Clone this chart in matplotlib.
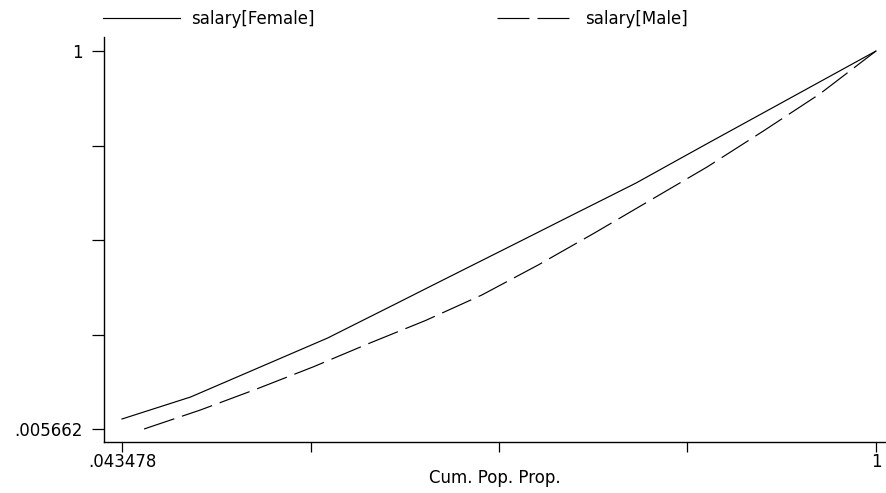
import matplotlib
matplotlib.use("Agg")
import matplotlib.pyplot as plt
import numpy as np
from matplotlib.ticker import FixedLocator, FuncFormatter

# Lorenz curves of salary by sex: cumulative salary share at each
# cumulative population proportion k/n.
n_female = 23
n_male = 14
female_share = [0.0320, 0.0609, 0.0898, 0.1286, 0.1674, 0.2062, 0.2450,
                0.2903, 0.3355, 0.3810, 0.4263, 0.4715, 0.5168, 0.5623,
                0.6075, 0.6528, 0.7028, 0.7527, 0.8022, 0.8516, 0.9011,
                0.9506, 1.0]
male_share = [0.005662, 0.0556, 0.1109, 0.1688, 0.2311, 0.2911, 0.3582,
              0.4371, 0.5213, 0.6081, 0.6949, 0.7896, 0.8869, 1.0]
series_labels = ["salary[Female]", "salary[Male]"]
x_title = "Cum. Pop. Prop."

plt.rcParams["lines.scale_dashes"] = False
FS = 12

x_f = np.arange(1, n_female + 1) / n_female
x_m = np.arange(1, n_male + 1) / n_male
x_lo, x_hi = min(x_f[0], x_m[0]), 1.0
y_lo, y_hi = min(min(female_share), min(male_share)), 1.0

fig = plt.figure(figsize=(8.86, 4.93), dpi=100)
ax = fig.add_axes([104 / 886, 51 / 493, 782 / 886, 405 / 493])

h_f, = ax.plot(x_f, female_share, color="black", lw=0.85,
               label=series_labels[0])
h_m, = ax.plot(x_m, male_share, color="black", lw=0.85, dashes=(23, 5.8),
               label=series_labels[1])

xspan = x_hi - x_lo
yspan = y_hi - y_lo
ax.set_xlim(x_lo - 0.0239 * xspan, x_hi + 0.0133 * xspan)
ax.set_ylim(y_lo - 0.0344 * yspan, y_hi + 0.0371 * yspan)

# Stata-style axes: five evenly spaced ticks, only the ends labelled
xt = np.linspace(x_lo, x_hi, 5)
yt = np.linspace(y_lo, y_hi, 5)


def end_label(lo, hi):
    def fmt(v, pos):
        if pos == 0:
            return f"{lo:.6f}".lstrip("0").rstrip("0")
        if pos == 4:
            return f"{hi:g}"
        return ""
    return FuncFormatter(fmt)


ax.xaxis.set_major_locator(FixedLocator(xt))
ax.yaxis.set_major_locator(FixedLocator(yt))
ax.xaxis.set_major_formatter(end_label(x_lo, x_hi))
ax.yaxis.set_major_formatter(end_label(y_lo, y_hi))

for side in ("top", "right"):
    ax.spines[side].set_visible(False)
for side in ("left", "bottom"):
    ax.spines[side].set_linewidth(1.0)

ax.tick_params(axis="y", direction="out", length=8.6, width=0.9, pad=7,
               labelsize=FS)
ax.tick_params(axis="x", direction="out", length=7.2, width=0.9, pad=1,
               labelsize=FS)
ax.set_xlabel(x_title, fontsize=FS, labelpad=-2)

for h, x0 in ((h_f, 103), (h_m, 497)):
    fig.legend(handles=[h], loc="center left",
               bbox_to_anchor=(x0 / 886, 1 - 19 / 493), frameon=False,
               fontsize=FS, handlelength=4.6, handletextpad=0.7,
               borderpad=0, borderaxespad=0)

fig.savefig("out.png", dpi=100)
